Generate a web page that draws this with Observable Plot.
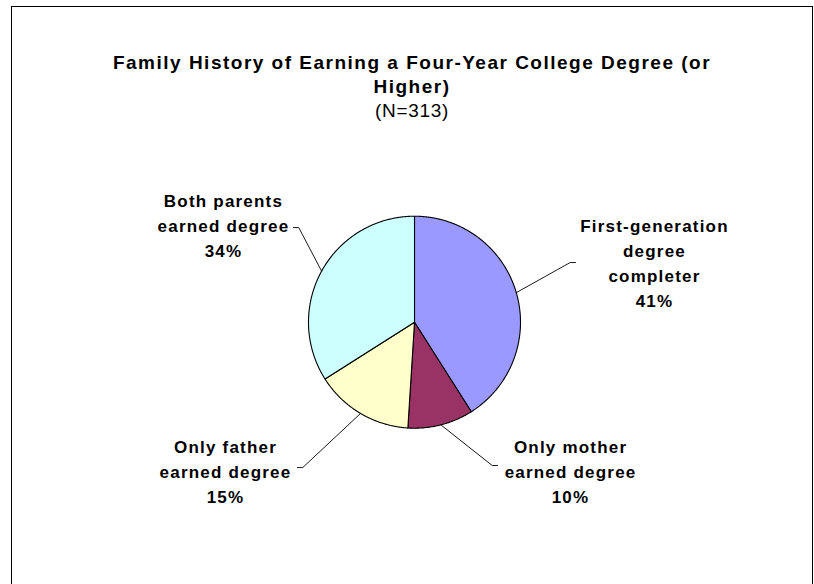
<!DOCTYPE html>
<html>
<head>
<meta charset="utf-8">
<script src="https://cdn.jsdelivr.net/npm/d3@7"></script>
<script src="https://cdn.jsdelivr.net/npm/@observablehq/plot@0.6"></script>
<style>
  html, body { margin: 0; padding: 0; background: #fff; overflow: hidden; }
  #wrap { position: relative; width: 814px; height: 584px; }
  #frame { position: absolute; left: 11px; top: 6px; width: 800px; height: 640px;
           border: 1px solid #000; border-bottom: none; box-sizing: content-box; }
  #title { position: absolute; left: 412px; top: 51px; transform: translateX(-50%);
           white-space: nowrap; text-align: center; font-family: "Liberation Sans", Arial, sans-serif;
           font-weight: bold; font-size: 19px; letter-spacing: 1.5px; line-height: 24px; color: #000; }
  #title .sub { font-weight: normal; letter-spacing: 0.7px; }
  #chart { position: absolute; left: 0; top: 0; }
  #chart svg text { letter-spacing: 1.2px; }
</style>
</head>
<body>
<div id="wrap">
  <div id="frame"></div>
  <div id="chart"></div>
  <div id="title"></div>
</div>
<script>
// ---- data ----
const titleLines = ["Family History of Earning a Four-Year College Degree (or", "Higher)"];
const subtitle = "(N=313)";
const categories = ["First-generation degree completer", "Only mother earned degree", "Only father earned degree", "Both parents earned degree"];
const labelTexts = ["First-generation\ndegree\ncompleter", "Only mother\nearned degree", "Only father\nearned degree", "Both parents\nearned degree"];
const percents = [41, 10, 15, 34];
const colors = ["#9999FF", "#993366", "#FFFFCC", "#CCFFFF"];

// ---- label layout (pie-radius units, manually placed as in the original) ----
const labelAt = [[2.264, 0.573], [1.472, -1.39], [-1.783, -1.39], [-1.802, 0.926]];
const leaderEnd = [[1.519, 0.563], [0.783, -1.352], [-1.104, -1.371], [-1.142, 0.893]];

// ---- title ----
const t = document.getElementById("title");
t.innerHTML = titleLines.join("<br>") + '<br><span class="sub">' + subtitle + "</span>";

// ---- geometry from the data ----
const total = d3.sum(percents);
const slicePts = [];
const leaderPts = [];
let acc = 0;
categories.forEach((cat, i) => {
  const a0 = acc / total * 2 * Math.PI;
  acc += percents[i];
  const a1 = acc / total * 2 * Math.PI;
  slicePts.push({cat, x: 0, y: 0});
  const n = Math.max(2, Math.ceil((a1 - a0) / (Math.PI / 360)));
  for (let k = 0; k <= n; k++) {
    const a = a0 + (a1 - a0) * k / n;
    slicePts.push({cat, x: Math.sin(a), y: Math.cos(a)});
  }
  const am = (a0 + a1) / 2;
  const [ex, ey] = leaderEnd[i];
  const stub = ex > 0 ? -0.05 : 0.05;
  leaderPts.push({cat, x: Math.sin(am), y: Math.cos(am)});
  leaderPts.push({cat, x: ex + stub, y: ey});
  leaderPts.push({cat, x: ex, y: ey});
});
const labels = categories.map((cat, i) => ({
  cat, x: labelAt[i][0], y: labelAt[i][1], text: labelTexts[i] + "\n" + percents[i] + "%"
}));

const chart = Plot.plot({
  width: 814,
  height: 584,
  marginLeft: 308,
  marginRight: 294,
  marginTop: 215.7,
  marginBottom: 156.3,
  x: {domain: [-1, 1], axis: null},
  y: {domain: [-1, 1], axis: null},
  color: {domain: categories, range: colors},
  style: {fontFamily: "'Liberation Sans', Arial, sans-serif", background: "transparent", overflow: "visible"},
  marks: [
    Plot.line(slicePts, {x: "x", y: "y", z: "cat", fill: "cat", stroke: "#000", strokeWidth: 1.1, curve: "linear-closed"}),
    Plot.line(leaderPts, {x: "x", y: "y", z: "cat", stroke: "#000", strokeWidth: 0.9}),
    Plot.text(labels, {x: "x", y: "y", text: "text", fontSize: 17, fontWeight: "bold", lineHeight: 1.47,
      textAnchor: "middle", lineAnchor: "middle", fill: "#000"})
  ]
});
document.getElementById("chart").appendChild(chart);
</script>
</body>
</html>
